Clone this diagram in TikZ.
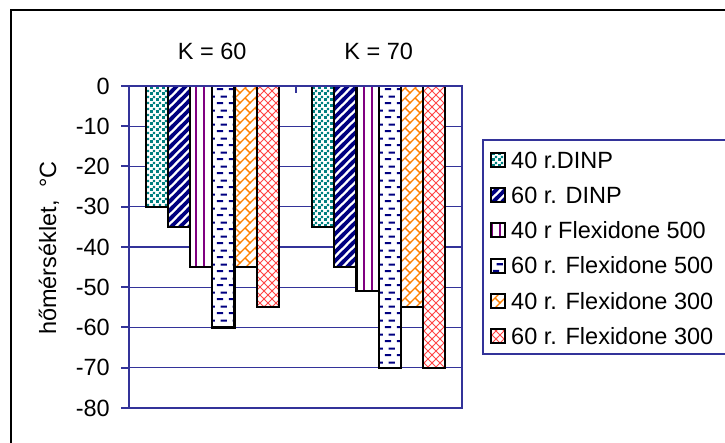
\documentclass[tikz,border=0pt]{standalone}
\usepackage{fontspec}
\setmainfont{Liberation Sans}
\usetikzlibrary{patterns}
\definecolor{axisblue}{RGB}{51, 51, 153}
\definecolor{dotteal}{RGB}{0, 128, 128}
\definecolor{stripenavy}{RGB}{0, 0, 128}
\definecolor{linepurple}{RGB}{128, 0, 128}
\definecolor{brickorange}{RGB}{255, 128, 0}
\definecolor{hatchred}{RGB}{255, 70, 70}

% fill patterns of the six series
\pgfdeclarepatternformonly{tealdots}{\pgfpointorigin}{\pgfpoint{6pt}{6pt}}{\pgfpoint{6pt}{6pt}}{%
  \pgfpathrectangle{\pgfpoint{0.2pt}{0.2pt}}{\pgfpoint{3pt}{3pt}}%
  \pgfpathrectangle{\pgfpoint{3.2pt}{3.2pt}}{\pgfpoint{2.6pt}{2.6pt}}%
  \pgfusepath{fill}}
\pgfdeclarepatternformonly{navystripes}{\pgfpoint{-3pt}{-3pt}}{\pgfpoint{12pt}{12pt}}{\pgfpoint{9pt}{9pt}}{%
  \pgfsetlinewidth{3.6pt}%
  \pgfpathmoveto{\pgfpoint{-3pt}{-3pt}}\pgfpathlineto{\pgfpoint{12pt}{12pt}}%
  \pgfusepath{stroke}}
\pgfdeclarepatternformonly{purplelines}{\pgfpoint{0pt}{-1pt}}{\pgfpoint{8pt}{9pt}}{\pgfpoint{8pt}{8pt}}{%
  \pgfsetlinewidth{1.3pt}%
  \pgfpathmoveto{\pgfpoint{4pt}{-1pt}}\pgfpathlineto{\pgfpoint{4pt}{9pt}}%
  \pgfusepath{stroke}}
\pgfdeclarepatternformonly{navydashes}{\pgfpointorigin}{\pgfpoint{12pt}{14pt}}{\pgfpoint{12pt}{14pt}}{%
  \pgfpathrectangle{\pgfpoint{1pt}{3pt}}{\pgfpoint{6.5pt}{2.2pt}}%
  \pgfpathrectangle{\pgfpoint{5pt}{10pt}}{\pgfpoint{6.5pt}{2.2pt}}%
  \pgfusepath{fill}}
\pgfdeclarepatternformonly{orangebrick}{\pgfpoint{-1pt}{-1pt}}{\pgfpoint{11pt}{11pt}}{\pgfpoint{10pt}{10pt}}{%
  \pgfsetlinewidth{1.4pt}%
  \pgfpathmoveto{\pgfpoint{-1pt}{-1pt}}\pgfpathlineto{\pgfpoint{11pt}{11pt}}%
  \pgfpathmoveto{\pgfpoint{5pt}{5pt}}\pgfpathlineto{\pgfpoint{10pt}{0pt}}%
  \pgfusepath{stroke}}
\pgfdeclarepatternformonly{redhatch}{\pgfpoint{-1pt}{-1pt}}{\pgfpoint{9pt}{9pt}}{\pgfpoint{8pt}{8pt}}{%
  \pgfsetlinewidth{1pt}%
  \pgfpathmoveto{\pgfpoint{-1pt}{-1pt}}\pgfpathlineto{\pgfpoint{9pt}{9pt}}%
  \pgfpathmoveto{\pgfpoint{-1pt}{9pt}}\pgfpathlineto{\pgfpoint{9pt}{-1pt}}%
  \pgfusepath{stroke}}

\tikzset{
  dinp40/.style={pattern=tealdots, pattern color=dotteal},
  dinp60/.style={pattern=navystripes, pattern color=stripenavy},
  fxd500r40/.style={pattern=purplelines, pattern color=linepurple},
  fxd500r60/.style={pattern=navydashes, pattern color=stripenavy},
  fxd300r40/.style={pattern=orangebrick, pattern color=brickorange},
  fxd300r60/.style={pattern=redhatch, pattern color=hatchred}
}

\begin{document}
\begin{tikzpicture}[x=1pt, y=-1pt,
  bar/.style={draw=black, line width=2.2pt, preaction={fill=white}},
  lbl/.style={inner sep=0pt, font=\fontsize{23.5}{28}\selectfont}]
  \useasboundingbox (0,0) rectangle (725,443);

  % Frame
  \draw[black, line width=2pt] (11,450) -- (11,10) -- (735,10);

  % Gridlines
  \foreach \v in {-10,-20,...,-70}
    \draw[axisblue, line width=1.2pt] (129,{86-4.025*(\v)}) -- (462,{86-4.025*(\v)});

  % Bars, K = 60
  \foreach \st/\val [count=\i from 0] in {dinp40/-30, dinp60/-35, fxd500r40/-45, fxd500r60/-60, fxd300r40/-45, fxd300r60/-55}
    \draw[bar, \st] ({145.65+22.2*\i},86) rectangle ({167.85+22.2*\i},{86-4.025*(\val)});

  % Bars, K = 70
  \foreach \st/\val [count=\i from 0] in {dinp40/-35, dinp60/-45, fxd500r40/-51, fxd500r60/-70, fxd300r40/-55, fxd300r60/-70}
    \draw[bar, \st] ({312.15+22.2*\i},86) rectangle ({334.35+22.2*\i},{86-4.025*(\val)});

  % Axes
  \draw[axisblue, line width=2.4pt] (129,86) rectangle (462,408);
  \draw[axisblue, line width=2pt] (295.75,86) -- (295.75,93);
  \foreach \v [count=\i] in {0,-10,...,-80} {
    \draw[axisblue, line width=2pt] (121,{86-4.025*(\v)}) -- (129,{86-4.025*(\v)});
    \node[lbl, anchor=east] (ytick\i) at (110,{86-4.025*(\v)}) {\v};
  }
  \node[lbl, rotate=90] (ylabel) at (49,248) {hőmérséklet,~~°C};

  \node[lbl] (k60) at (212.25,51) {K = 60};
  \node[lbl] (k70) at (378.75,51) {K = 70};

  % Legend
  \draw[axisblue, line width=2pt] (735,140) -- (483,140) -- (483,354) -- (735,354);
  \foreach \st/\txt [count=\i from 0] in {dinp40/40 r.DINP, dinp60/60 r. DINP, fxd500r40/40 r Flexidone 500, fxd500r60/60 r. Flexidone 500, fxd300r40/40 r. Flexidone 300, fxd300r60/60 r. Flexidone 300} {
    \draw[\st, draw=black, line width=2pt] (491,{153+35.2*\i}) rectangle (505,{167+35.2*\i});
    \node[lbl, anchor=west] (leg\i) at (511,{160+35.2*\i}) {\txt};
  }
\end{tikzpicture}
\end{document}
